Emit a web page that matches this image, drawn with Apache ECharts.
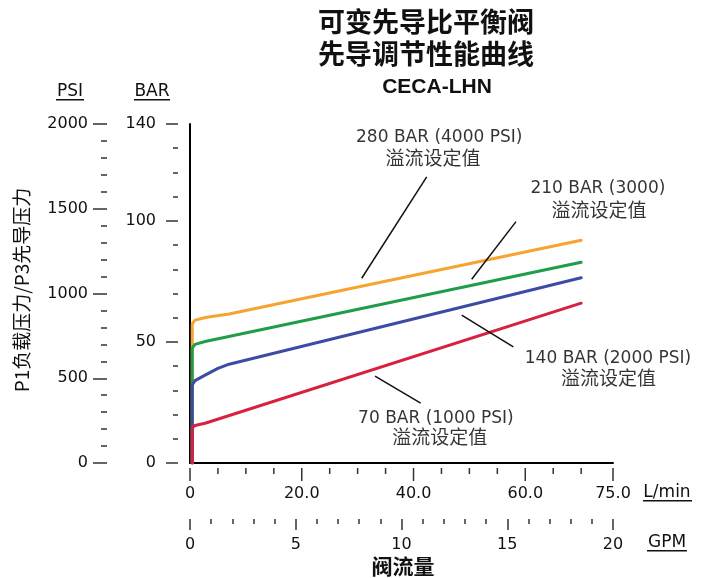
<!DOCTYPE html>
<html>
<head>
<meta charset="utf-8">
<script src="https://cdn.jsdelivr.net/npm/echarts@6/dist/echarts.min.js"></script>
<style>html,body{margin:0;padding:0;background:#fff;}#c{width:707px;height:578px;}</style>
</head>
<body>
<div id="c"></div>
<script>
// ---- data (x in L/min, y in BAR) ----
const seriesNames = ['280 BAR', '210 BAR', '140 BAR', '70 BAR'];
const orangeData = [[0.4,0],[0.4,57.5],[0.9,59],[3,60.2],[7,61.5],[70,92]];
const greenData  = [[0.4,0],[0.4,47.5],[0.9,49],[2.7,50.2],[70,82.9]];
const blueData   = [[0.4,0],[0.4,32.3],[0.9,34],[2.7,36.3],[5,39.1],[7,40.8],[9,41.9],[70,76.5]];
const redData    = [[0.4,0],[0.4,14.5],[0.9,15.5],[2.7,16.4],[70,66]];

const lminMax = 75.7;           // = 20 GPM
const gpmMax = 20;
const lminMajorTicks = [0,20,40,60,75.7];
const lminMinorTicks = [5,10,15,25,30,35,45,50,55,65,70];

const annoTitles = ['280 BAR (4000 PSI)', '210 BAR (3000)', '140 BAR (2000 PSI)', '70 BAR (1000 PSI)'];
const annoSub = '溢流设定值';
const annoTitlePos = [[44.6,134.3],[73.0,113.4],[74.8,43.2],[44.0,18.5]];
const annoSubPos   = [[43.5,126.1],[73.2,104.5],[74.9,35.0],[44.7,10.9]];
const leaderLines = [
  [[42.36,118.2],[30.73,76.3]],
  [[58.34,99.7],[50.41,75.9]],
  [[48.62,61.1],[57.86,48.0]],
  [[33.11,35.9],[41.28,24.7]]
];

const colors = ['#F7A330', '#1F9D4A', '#3E4BA6', '#D7223F'];
const latin = '"DejaVu Sans", sans-serif';
const cjk = '"Noto Sans CJK SC", sans-serif';
const tickColor = '#333';
const hiddenLine = () => ({show: false, onZero: false});

const chart = echarts.init(document.getElementById('c'));

const annoData = [];
annoTitles.forEach((t, i) => {
  annoData.push({value: annoTitlePos[i], name: t,
    label: {fontFamily: latin, fontSize: 17, color: '#000'}});
  annoData.push({value: annoSubPos[i], name: annoSub,
    label: {fontFamily: cjk, fontSize: 19, color: '#000'}});
});

const baseGraphic = [
  {type: 'text', x: 426, y: 22, style: {text: '可变先导比平衡阀', fontFamily: cjk, fontSize: 27, fontWeight: 'bold', fill: '#111', align: 'center', verticalAlign: 'middle'}},
  {type: 'text', x: 426, y: 54, style: {text: '先导调节性能曲线', fontFamily: cjk, fontSize: 27, fontWeight: 'bold', fill: '#111', align: 'center', verticalAlign: 'middle'}},
  {type: 'text', x: 437, y: 87, style: {text: 'CECA-LHN', fontFamily: '"Liberation Sans", Arial, sans-serif', fontSize: 21, fontWeight: 'bold', fill: '#111', align: 'center', verticalAlign: 'middle'}},
  {type: 'text', x: 22, y: 290, rotation: Math.PI / 2, style: {text: 'P1负载压力/P3先导压力', fontFamily: cjk, fontSize: 19, fill: '#111', align: 'center', verticalAlign: 'middle'}},
  {type: 'text', x: 403, y: 566, style: {text: '阀流量', fontFamily: cjk, fontSize: 21, fontWeight: 'bold', fill: '#111', align: 'center', verticalAlign: 'middle'}},
  {type: 'text', x: 70, y: 92, style: {text: 'PSI', fontFamily: latin, fontSize: 17, fill: '#111', align: 'center', verticalAlign: 'middle'}},
  {type: 'rect', shape: {x: 56, y: 99, width: 28, height: 1.5}, style: {fill: '#111'}},
  {type: 'text', x: 152, y: 92, style: {text: 'BAR', fontFamily: latin, fontSize: 17, fill: '#111', align: 'center', verticalAlign: 'middle'}},
  {type: 'rect', shape: {x: 134, y: 99, width: 36, height: 1.5}, style: {fill: '#111'}},
  {type: 'text', x: 667, y: 493, style: {text: 'L/min', fontFamily: latin, fontSize: 17, fill: '#111', align: 'center', verticalAlign: 'middle'}},
  {type: 'rect', shape: {x: 643, y: 500, width: 49, height: 1.5}, style: {fill: '#111'}},
  {type: 'text', x: 667, y: 543, style: {text: 'GPM', fontFamily: latin, fontSize: 17, fill: '#111', align: 'center', verticalAlign: 'middle'}},
  {type: 'rect', shape: {x: 647, y: 550, width: 40, height: 1.5}, style: {fill: '#111'}}
];

const option = {
  animation: false,
  backgroundColor: '#fff',
  grid: {left: 190, right: 94, top: 124, bottom: 115},
  xAxis: [
    {type: 'value', min: 0, max: lminMax, position: 'bottom',
     axisLine: {show: true, onZero: false, lineStyle: {color: '#000', width: 2}},
     axisTick: {show: false}, axisLabel: {show: false}, splitLine: {show: false}},
    // L/min labels
    {type: 'value', min: 0, max: lminMax, position: 'bottom', offset: 5,
     axisLine: hiddenLine(),
     axisTick: {show: false},
     axisLabel: {show: true, margin: 18, customValues: lminMajorTicks,
       fontFamily: latin, fontSize: 16, color: '#111',
       formatter: v => v === 0 ? '0' : (v > 75 ? '75.0' : v.toFixed(1))},
     splitLine: {show: false}},
    // GPM
    {type: 'value', min: 0, max: gpmMax, interval: 5, position: 'bottom', offset: 56,
     axisLine: hiddenLine(),
     axisTick: {show: true, length: 11, lineStyle: {color: tickColor, width: 1.5}},
     minorTick: {show: true, splitNumber: 5, length: 5, lineStyle: {color: tickColor, width: 1.5}},
     axisLabel: {show: true, margin: 18, showMinLabel: true, showMaxLabel: true,
       fontFamily: latin, fontSize: 16, color: '#111', formatter: v => String(v)},
     splitLine: {show: false}, minorSplitLine: {show: false}}
  ],
  yAxis: [
    {type: 'value', min: 0, max: 140, position: 'left',
     axisLine: {show: true, onZero: false, lineStyle: {color: '#000', width: 2}},
     axisTick: {show: false}, axisLabel: {show: false}, splitLine: {show: false}},
    {type: 'value', min: 0, max: 140, interval: 50, position: 'left', offset: 12,
     axisLine: hiddenLine(),
     axisTick: {show: true, length: 12, lineStyle: {color: tickColor, width: 1.5}},
     axisLabel: {show: true, margin: 22, showMinLabel: true, showMaxLabel: true,
       fontFamily: latin, fontSize: 16, color: '#111', formatter: v => String(v)},
     splitLine: {show: false}},
    {type: 'value', min: 0, max: 140, interval: 10, position: 'left', offset: 12,
     axisLine: hiddenLine(),
     axisTick: {show: true, length: 5, lineStyle: {color: tickColor, width: 1.5}},
     axisLabel: {show: false}, splitLine: {show: false}},
    {type: 'value', min: 0, max: 2000, interval: 500, position: 'left', offset: 83,
     axisLine: hiddenLine(),
     axisTick: {show: true, length: 14, lineStyle: {color: tickColor, width: 1.5}},
     minorTick: {show: true, splitNumber: 5, length: 6, lineStyle: {color: tickColor, width: 1.5}},
     axisLabel: {show: true, margin: 19, showMinLabel: true, showMaxLabel: true,
       fontFamily: latin, fontSize: 16, color: '#111', formatter: v => String(v)},
     splitLine: {show: false}, minorSplitLine: {show: false}}
  ],
  series: [
    ...[orangeData, greenData, blueData, redData].map((d, i) => ({
      name: seriesNames[i], type: 'line', xAxisIndex: 0, yAxisIndex: 0,
      data: d, showSymbol: false, symbol: 'none', smooth: false,
      lineStyle: {color: colors[i], width: 3, join: 'round', cap: 'round'},
      itemStyle: {color: colors[i]}, silent: true
    })),
    {
      name: 'annotations', type: 'scatter', xAxisIndex: 0, yAxisIndex: 0,
      symbolSize: 0, silent: true, clip: false,
      data: annoData,
      label: {show: true, position: 'inside', color: '#000', formatter: p => p.name,
        align: 'center', verticalAlign: 'middle', textBorderWidth: 0},
      markLine: {
        silent: true, symbol: ['none', 'none'], animation: false,
        label: {show: false},
        lineStyle: {color: '#111', width: 1.5, type: 'solid'},
        emphasis: {disabled: true},
        data: leaderLines.map(l => [{coord: l[0]}, {coord: l[1]}])
      }
    }
  ],
  graphic: baseGraphic
};
chart.setOption(option);

// L/min tick marks, positioned through the x axis scale (drawn 5px below the axis line)
const yBase = chart.convertToPixel({yAxisIndex: 0}, 0);
const tickEls = [];
lminMajorTicks.forEach(v => {
  const x = chart.convertToPixel({xAxisIndex: 0}, v);
  tickEls.push({type: 'line', silent: true, shape: {x1: x, y1: yBase + 5, x2: x, y2: yBase + 18},
    style: {stroke: tickColor, lineWidth: 1.5}});
});
lminMinorTicks.forEach(v => {
  const x = chart.convertToPixel({xAxisIndex: 0}, v);
  tickEls.push({type: 'line', silent: true, shape: {x1: x, y1: yBase + 5, x2: x, y2: yBase + 11},
    style: {stroke: tickColor, lineWidth: 1.5}});
});
chart.setOption({graphic: baseGraphic.concat(tickEls)});
</script>
</body>
</html>
